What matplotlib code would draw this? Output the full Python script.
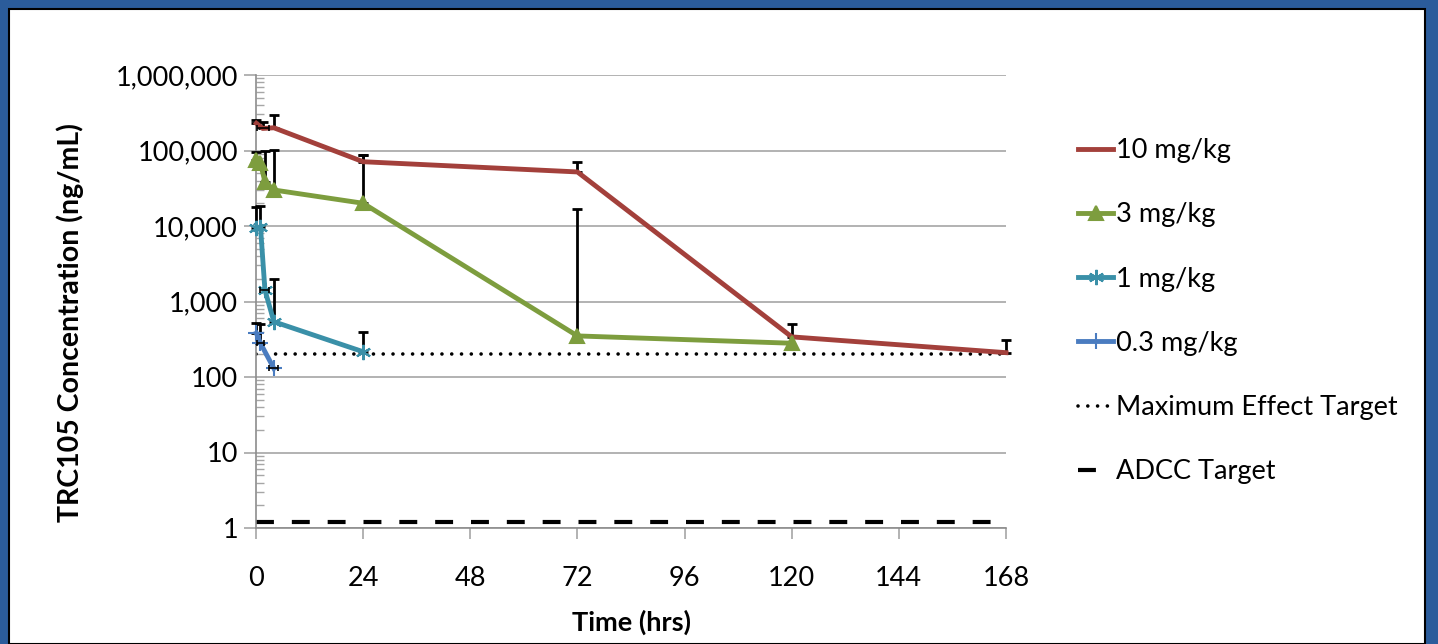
import numpy as np
import matplotlib
matplotlib.use("Agg")
import matplotlib.pyplot as plt
from matplotlib.patches import Rectangle

# --- data ---
time_10 = [0.083, 1.5, 4, 24, 72, 120, 168]
conc_10 = [229000, 196000, 200000, 71000, 52000, 340, 210]
top_10 = [253000, 240000, 295000, 87000, 71000, 510, 310]
xerr_10 = [0, 1.3, 0, 0, 0, 0, 0]

time_3 = [0.083, 1, 2, 4, 24, 72, 120]
conc_3 = [74800, 67600, 38600, 30000, 20000, 350, 280]
top_3 = [95000, np.nan, 100000, 103000, 87000, 17000, np.nan]
xerr_3 = [0, 0, 0, 0, 0, 0, 0]

time_1 = [0.083, 1, 2, 4, 24]
conc_1 = [9300, 9800, 1420, 540, 216]
top_1 = [18000, 18500, np.nan, 2000, 400]
xerr_1 = [0, 0, 1.0, 0, 0]

time_03 = [0.083, 1, 4]
conc_03 = [380, 280, 130]
top_03 = [525, 510, np.nan]
xerr_03 = [0, 0.8, 1.0]

max_effect_target = 200
adcc_target = 1.2
target_span = [0, 168]

x_ticks = [0, 24, 48, 72, 96, 120, 144, 168]
y_ticks = [1, 10, 100, 1000, 10000, 100000, 1000000]
y_tick_labels = ["1", "10", "100", "1,000", "10,000", "100,000", "1,000,000"]

series = [
    ("10 mg/kg", time_10, conc_10, top_10, xerr_10, "#A3403B", "None", 0),
    ("3 mg/kg", time_3, conc_3, top_3, xerr_3, "#7D9D3E", "^", 10),
    ("1 mg/kg", time_1, conc_1, top_1, xerr_1, "#3A90A8", (6, 2, 0), 11),
    ("0.3 mg/kg", time_03, conc_03, top_03, xerr_03, "#4A7CC0", "+", 11),
]

plt.rcParams['font.family'] = ['Lato', 'DejaVu Sans']
FS = 19.5

W, H = 1438, 644
fig = plt.figure(figsize=(W / 100, H / 100), dpi=100)
fig.patch.set_facecolor('#2B5C9B')
fig.add_artist(Rectangle((9 / W, 0), (1425 - 9) / W, (H - 9) / H, transform=fig.transFigure,
                         facecolor='white', edgecolor='black', lw=1.5, zorder=0))

ax = fig.add_axes([256 / W, 1 - 528 / H, 750 / W, 453 / H])
ax.set_facecolor('none')
ax.set_yscale('log')
ax.set_xlim(0, 168)
ax.set_ylim(1, 1e6)

for name, t, c, top, xe, col, mk, ms in series:
    t = np.array(t, float); c = np.array(c, float)
    top = np.array(top, float); xe = np.array(xe, float)
    ax.plot(t, c, color=col, lw=3.5, marker=mk, ms=ms, mec=col, mfc=col, mew=1.5,
            label=name, zorder=4, solid_joinstyle='round', clip_on=False)
    m = ~np.isnan(top)
    eb = ax.errorbar(t[m], c[m], yerr=[np.zeros(m.sum()), top[m] - c[m]], fmt='none',
                     ecolor='black', elinewidth=2, capsize=3.6, capthick=2, zorder=3)
    for a in eb.get_children():
        a.set_clip_on(False)
    mx = xe > 0
    if mx.any():
        eb = ax.errorbar(t[mx], c[mx], xerr=xe[mx], fmt='none', ecolor='black',
                         elinewidth=1.2, capsize=2.5, capthick=1.2, zorder=5)
        for a in eb.get_children():
            a.set_clip_on(False)

ax.plot(target_span, [max_effect_target] * 2, color='black', lw=2.6,
        linestyle=(0, (0.01, 2.7)), dash_capstyle='round', label='Maximum Effect Target', zorder=2)
ax.plot(target_span, [adcc_target] * 2, color='black', lw=3,
        linestyle=(0, (4.3, 4.3)), label='ADCC Target', zorder=2)

ax.set_xticks(x_ticks)
ax.set_yticks(y_ticks)
ax.set_yticklabels(y_tick_labels)
ax.yaxis.set_minor_locator(matplotlib.ticker.LogLocator(base=10, subs=np.arange(2, 10)))
ax.yaxis.set_minor_formatter(matplotlib.ticker.NullFormatter())
ax.grid(axis='y', which='major', color='#A6A6A6', lw=1.2)
for s in ['top', 'right']:
    ax.spines[s].set_visible(False)
for s in ['left', 'bottom']:
    ax.spines[s].set_color('#8C8C8C')
    ax.spines[s].set_linewidth(1.2)
ax.tick_params(axis='y', which='major', direction='out', length=9, width=1.2,
               color='#A6A6A6', labelsize=FS, pad=4)
ax.tick_params(axis='y', which='minor', direction='in', length=6, width=1,
               color='#A6A6A6')
ax.tick_params(axis='x', which='major', direction='out', length=8, width=1.2,
               color='#A6A6A6', labelsize=FS, pad=19)

fig.text(631 / W, 1 - 622 / H, "Time (hrs)", ha='center', va='center',
         fontsize=FS, fontweight='bold')
fig.text(70 / W, 1 - 323 / H, "TRC105 Concentration (ng/mL)", ha='center', va='center',
         rotation=90, fontsize=20.5, fontweight='bold')

leg = ax.legend(loc='upper left', bbox_to_anchor=(1078 / W, 1 - 138 / H),
                bbox_transform=fig.transFigure, frameon=False, fontsize=FS,
                handlelength=1.3, handletextpad=0.1, labelspacing=1.45,
                borderpad=0, borderaxespad=0)

fig.savefig("out.png", dpi=100, facecolor=fig.get_facecolor())
